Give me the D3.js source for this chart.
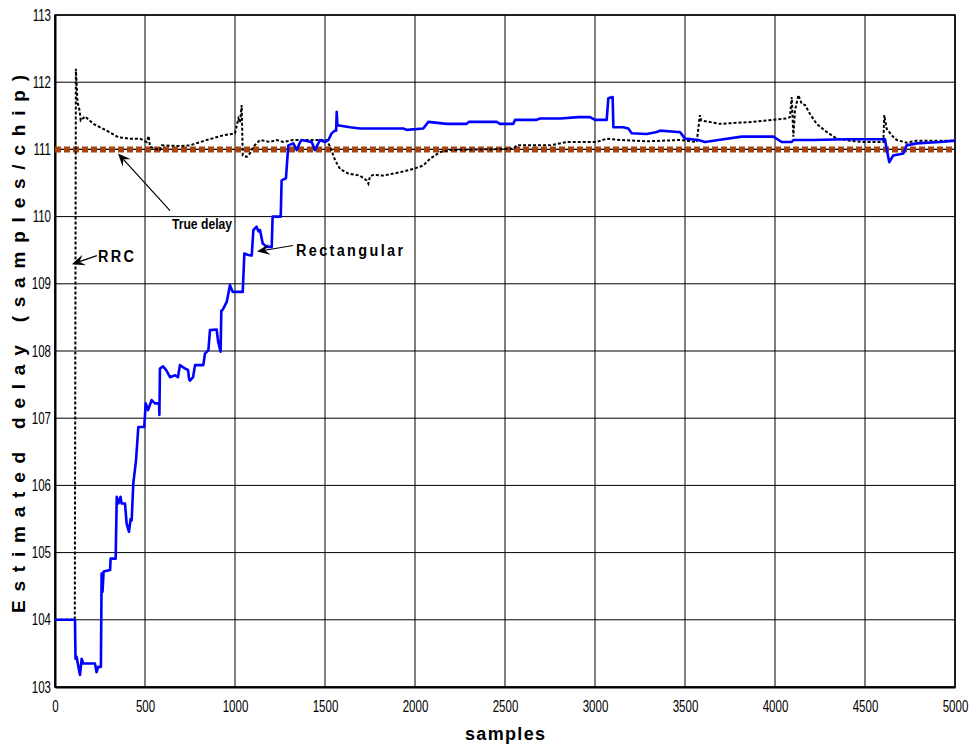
<!DOCTYPE html>
<html>
<head>
<meta charset="utf-8">
<script src="https://cdn.jsdelivr.net/npm/d3@7"></script>
<style>
  body { margin: 0; background: #fff; }
  svg { display: block; }
</style>
</head>
<body>
<script>
// samples (x) and estimated delay (y)
const rectSamples = [0,111,114,120,130,139,148,157,222,231,240,255,259,264,270,306,309,337,343,352,364,370,389,398,411,420,426,435,450,463,496,504,517,537,555,578,580,583,600,617,639,667,683,694,722,739,745,750,767,778,824,833,852,861,898,907,920,924,931,954,972,987,1043,1052,1074,1093,1102,1120,1130,1139,1154,1176,1204,1209,1254,1259,1283,1296,1324,1343,1360,1370,1426,1444,1472,1500,1519,1537,1556,1562,1565,1569,1639,1694,1935,1954,2046,2074,2176,2287,2300,2454,2472,2546,2556,2676,2694,2806,2907,2972,3000,3065,3074,3098,3102,3157,3185,3204,3287,3343,3361,3460,3472,3500,3574,3611,3685,3815,3991,4037,4093,4102,4213,4398,4611,4620,4635,4657,4713,4731,4787,4917,5000];
const rectDelay = [104.0,104.0,103.42,103.45,103.3,103.18,103.42,103.35,103.35,103.22,103.3,103.3,104.69,104.42,104.72,104.74,104.91,104.91,105.83,105.73,105.83,105.73,105.73,105.43,105.31,105.5,105.48,106.03,106.37,106.87,106.87,107.22,107.12,107.27,107.22,107.22,107.05,107.74,107.77,107.72,107.61,107.64,107.61,107.79,107.74,107.72,107.58,107.56,107.61,107.79,107.79,107.96,108.01,108.31,108.32,108.13,107.99,108.6,108.61,108.73,108.98,108.88,108.88,109.45,109.43,109.42,109.8,109.85,109.78,109.8,109.6,109.55,109.55,110.0,110.0,110.54,110.57,111.06,111.09,110.99,111.1,111.14,111.11,110.99,111.14,111.11,111.14,111.24,111.28,111.28,111.56,111.36,111.33,111.31,111.31,111.29,111.31,111.41,111.38,111.38,111.41,111.41,111.38,111.38,111.44,111.44,111.46,111.46,111.48,111.48,111.44,111.44,111.76,111.78,111.33,111.33,111.31,111.24,111.23,111.26,111.28,111.26,111.26,111.16,111.14,111.11,111.14,111.19,111.19,111.11,111.11,111.14,111.14,111.15,111.15,111.01,110.81,110.91,110.94,111.06,111.09,111.11,111.13];

const rrcSamples = [0,110,116,125,135,143,167,213,287,352,417,472,509,520,528,556,583,593,694,750,843,935,1000,1019,1028,1037,1043,1065,1083,1102,1139,1194,1232,1269,1324,1435,1509,1528,1556,1583,1630,1694,1731,1741,1750,1768,1824,1917,1991,2046,2083,2139,2194,2546,2565,2750,2843,3009,3065,3139,3287,3472,3565,3583,3590,3694,3880,4065,4083,4093,4102,4111,4130,4148,4167,4194,4231,4287,4343,4417,4491,4602,4607,4620,4648,4676,4731,4787,5000];
const rrcDelay = [104.0,104.0,112.2,111.7,111.6,111.43,111.49,111.38,111.28,111.18,111.16,111.16,111.11,111.2,111.04,111.01,110.99,111.06,111.05,111.06,111.14,111.21,111.24,111.46,111.4,111.66,110.91,110.89,110.94,111.04,111.14,111.11,111.14,111.11,111.14,111.14,111.14,111.04,110.84,110.71,110.64,110.61,110.54,110.49,110.6,110.62,110.61,110.66,110.71,110.76,110.86,110.96,110.99,111.01,111.06,111.06,111.11,111.11,111.16,111.14,111.12,111.14,111.11,111.51,111.43,111.38,111.41,111.46,111.48,111.78,111.19,111.58,111.81,111.68,111.66,111.53,111.38,111.26,111.16,111.13,111.11,111.11,111.51,111.31,111.21,111.14,111.10,111.13,111.13];

const trueSamples = [0, 5000];
const trueDelay = [111, 111];

const xTicks = [0,500,1000,1500,2000,2500,3000,3500,4000,4500,5000];
const yTicks = [103,104,105,106,107,108,109,110,111,112,113];

const width = 969, height = 749;
const margin = {top: 15, right: 14, bottom: 62, left: 55};

const svg = d3.select("body")
  .append("svg")
    .attr("width", width)
    .attr("height", height);

const x = d3.scaleLinear().domain([0, 5000]).range([margin.left, width - margin.right]);
const y = d3.scaleLinear().domain([103, 113]).range([height - margin.bottom, margin.top]);

const sans = "'Liberation Sans', Arial, sans-serif";

// grid
svg.append("g")
  .selectAll("line")
  .data(xTicks)
  .join("line")
    .attr("x1", d => x(d)).attr("x2", d => x(d))
    .attr("y1", y(103)).attr("y2", y(113))
    .attr("stroke", "#000").attr("stroke-width", 1);
svg.append("g")
  .selectAll("line")
  .data(yTicks)
  .join("line")
    .attr("x1", x(0)).attr("x2", x(5000))
    .attr("y1", d => y(d)).attr("y2", d => y(d))
    .attr("stroke", "#000").attr("stroke-width", 1);

// axes, digits squeezed horizontally to look like a narrow face
const sq = 0.72;
const xAxis = svg.append("g")
  .attr("transform", `translate(0,${y(103)})`)
  .call(d3.axisBottom(x).tickValues(xTicks).tickSize(0).tickPadding(14).tickFormat(d3.format("d")));
const yAxis = svg.append("g")
  .attr("transform", `translate(${x(0)},0)`)
  .call(d3.axisLeft(y).tickValues(yTicks).tickSize(0).tickPadding(4).tickFormat(d3.format("d")));
[xAxis, yAxis].forEach(g => {
  g.select(".domain").attr("stroke-width", 2);
  g.selectAll("text")
    .style("font-family", sans).style("font-size", "16px").attr("fill", "#000")
    .attr("transform", `scale(${sq},1)`);
});
yAxis.selectAll("text").attr("x", -4 / sq);

// frame top/right
svg.append("rect")
  .attr("x", x(0)).attr("y", y(113))
  .attr("width", x(5000) - x(0)).attr("height", y(103) - y(113))
  .attr("fill", "none").attr("stroke", "#000").attr("stroke-width", 1.5);

const line = d3.line().x(d => x(d[0])).y(d => y(d[1]));
const zip = (a, b) => a.map((v, i) => [v, b[i]]);

// true delay
svg.append("path")
  .attr("d", line(zip(trueSamples, trueDelay)))
  .attr("fill", "none").attr("stroke", "#000").attr("stroke-width", 1.2);
svg.append("path")
  .attr("d", line(zip(trueSamples, trueDelay)))
  .attr("fill", "none").attr("stroke", "#a5420f").attr("stroke-width", 6)
  .attr("stroke-dasharray", "6,3");

// RRC
svg.append("path")
  .attr("d", line(zip(rrcSamples, rrcDelay)))
  .attr("fill", "none").attr("stroke", "#000").attr("stroke-width", 2)
  .attr("stroke-dasharray", "3,2");

// Rectangular
svg.append("path")
  .attr("d", line(zip(rectSamples, rectDelay)))
  .attr("fill", "none").attr("stroke", "#0000ff").attr("stroke-width", 2.6)
  .attr("stroke-linejoin", "round");

// annotations
const notes = [
  {label: "True delay", tx: 650, ty: 109.81, len: 60, size: 15, adj: "spacingAndGlyphs", x0: 639, y0: 110.09, x1: 350, y1: 110.94},
  {label: "RRC", tx: 239, ty: 109.32, len: 36, size: 17, adj: "spacing", x0: 233, y0: 109.42, x1: 94, y1: 109.29},
  {label: "Rectangular", tx: 1339, ty: 109.42, len: 107, size: 17, adj: "spacing", x0: 1322, y0: 109.57, x1: 1122, y1: 109.48}
];

notes.forEach(n => {
  const ax0 = x(n.x0), ay0 = y(n.y0), ax1 = x(n.x1), ay1 = y(n.y1);
  const ang = Math.atan2(ay1 - ay0, ax1 - ax0);
  const L = 13, W = 5.5, notch = 8;
  const bx = ax1 - L * Math.cos(ang), by = ay1 - L * Math.sin(ang);
  const nx = ax1 - notch * Math.cos(ang), ny = ay1 - notch * Math.sin(ang);
  const px = -Math.sin(ang) * W, py = Math.cos(ang) * W;
  svg.append("line")
    .attr("x1", ax0).attr("y1", ay0).attr("x2", nx).attr("y2", ny)
    .attr("stroke", "#000").attr("stroke-width", 1.2);
  svg.append("path")
    .attr("d", `M${ax1},${ay1}L${bx + px},${by + py}L${nx},${ny}L${bx - px},${by - py}Z`)
    .attr("fill", "#000");
  const t = svg.append("text")
    .attr("x", x(n.tx)).attr("y", y(n.ty))
    .attr("textLength", n.len).attr("lengthAdjust", n.adj)
    .style("font-family", sans).style("font-size", n.size + "px").style("font-weight", "bold")
    .text(n.label);
  if (n.adj === "spacing") t.attr("transform", `translate(${x(n.tx)},${y(n.ty)}) scale(0.85,1) translate(${-x(n.tx)},${-y(n.ty)})`)
    .attr("textLength", n.len / 0.85);
});

// axis titles
svg.append("text")
  .attr("x", (x(0) + x(5000)) / 2).attr("y", 740)
  .attr("text-anchor", "middle")
  .attr("textLength", 80).attr("lengthAdjust", "spacing")
  .style("font-family", sans).style("font-size", "18px").style("font-weight", "bold")
  .text("samples");

svg.append("text")
  .attr("transform", `translate(25,${344}) rotate(-90)`)
  .attr("text-anchor", "middle")
  .attr("textLength", 538).attr("lengthAdjust", "spacing")
  .style("font-family", sans).style("font-size", "19px").style("font-weight", "bold")
  .text("Estimated delay (samples/chip)");
</script>
</body>
</html>
